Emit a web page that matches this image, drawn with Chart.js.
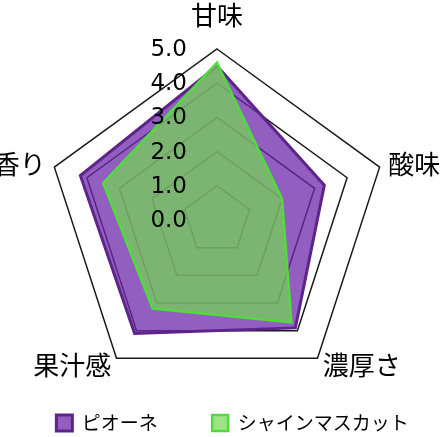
<!DOCTYPE html>
<html>
<head>
<meta charset="utf-8">
<script src="https://cdn.jsdelivr.net/npm/chart.js@4"></script>
<style>
  html, body { margin: 0; padding: 0; background: #fff; }
  #wrap { width: 446px; height: 437px; }
</style>
</head>
<body>
<div id="wrap"><canvas id="chart-radar"></canvas></div>
<script>
const categorias = ['甘味', '酸味', '濃厚さ', '果汁感', '香り'];
const pione = [4.5, 3.3, 3.9, 4.1, 4.2];
const shine = [4.6, 2.0, 3.7, 3.2, 3.5];
const series = ['ピオーネ', 'シャインマスカット'];
const escalaMin = 0;
const escalaMax = 5;
const escalaPaso = 1;

const FUENTE = '"Noto Sans CJK JP", "Noto Sans", sans-serif';

// tick labels, drawn left of the vertical axis
const ticksIzquierda = {
  id: 'ticksIzquierda',
  afterDatasetsDraw(chart) {
    const s = chart.scales.r;
    const ctx = chart.ctx;
    ctx.save();
    ctx.font = '23px "DejaVu Sans", sans-serif';
    ctx.fillStyle = '#000';
    ctx.textAlign = 'right';
    ctx.textBaseline = 'middle';
    s.ticks.forEach(t => {
      const y = s.yCenter - s.getDistanceFromCenterForValue(t.value);
      ctx.fillText(t.value.toFixed(1), s.xCenter - 30, y + 1);
    });
    ctx.restore();
  }
};

// category labels around the outer ring
const etiquetasEjes = {
  id: 'etiquetasEjes',
  afterDatasetsDraw(chart) {
    const s = chart.scales.r;
    const ctx = chart.ctx;
    ctx.save();
    ctx.font = `26px ${FUENTE}`;
    ctx.fillStyle = '#000';
    ctx.textBaseline = 'middle';
    categorias.forEach((txt, i) => {
      const top = i === 0;
      const p = s.getPointPosition(i, s.drawingArea + (top ? 34 : 9));
      if (top) ctx.textAlign = 'center';
      else ctx.textAlign = p.x > s.xCenter ? 'left' : 'right';
      ctx.fillText(txt, p.x, p.y);
    });
    ctx.restore();
  }
};

const ctx = document.getElementById('chart-radar').getContext('2d');
new Chart(ctx, {
  type: 'radar',
  data: {
    labels: categorias,
    datasets: [{
      label: series[0],
      data: pione,
      order: 1,
      backgroundColor: 'rgba(110,40,170,0.75)',
      borderColor: '#5f238c',
      borderWidth: 3,
      pointRadius: 0
    }, {
      label: series[1],
      data: shine,
      order: 0,
      backgroundColor: 'rgba(116,216,81,0.7)',
      borderColor: '#50dc3c',
      borderWidth: 2.5,
      pointRadius: 0
    }]
  },
  options: {
    responsive: true,
    maintainAspectRatio: false,
    animation: false,
    layout: { padding: { left: 19, right: 0, top: 49, bottom: -5.5 } },
    scales: {
      r: {
        min: escalaMin,
        max: escalaMax,
        ticks: { stepSize: escalaPaso, display: false },
        angleLines: { display: false },
        grid: { color: '#1a1a1a', lineWidth: 1.5 },
        pointLabels: { display: false }
      }
    },
    plugins: {
      // empty box on the right, only to push the radar left of the legend centre
      title: {
        display: true,
        text: ' ',
        position: 'right',
        padding: 0,
        font: { size: 10, lineHeight: '31px' }
      },
      tooltip: { enabled: false },
      legend: {
        position: 'bottom',
        labels: {
          color: '#000',
          font: { family: FUENTE, size: 19 },
          boxWidth: 16,
          boxHeight: 16,
          padding: 22.5,
          generateLabels(chart) {
            const items = Chart.defaults.plugins.legend.labels.generateLabels(chart);
            items.sort((a, b) => a.datasetIndex - b.datasetIndex);
            items[0].text = items[0].text + '\u3000   ';
            return items;
          }
        }
      }
    }
  },
  plugins: [ticksIzquierda, etiquetasEjes]
});
</script>
</body>
</html>
